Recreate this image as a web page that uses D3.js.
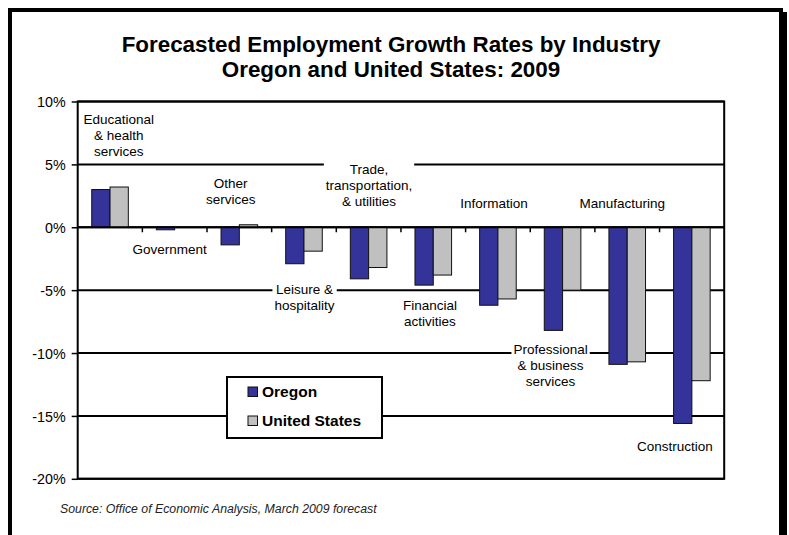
<!DOCTYPE html>
<html>
<head>
<meta charset="utf-8">
<script src="https://cdn.jsdelivr.net/npm/d3@7"></script>
<style>
  html, body { margin: 0; padding: 0; background: #fff; }
  svg { display: block; font-family: "Liberation Sans", Arial, Helvetica, sans-serif; }
</style>
</head>
<body>
<svg id="chart" width="789" height="535"></svg>
<script>
// ---------- data ----------
const categories = [
  "Educational & health services", "Government", "Other services",
  "Leisure & hospitality", "Trade, transportation, & utilities",
  "Financial activities", "Information", "Professional & business services",
  "Manufacturing", "Construction"
];
const seriesNames = ["Oregon", "United States"];
const oregon = [3.0, -0.2, -1.4, -2.9, -4.1, -4.6, -6.2, -8.2, -10.9, -15.6];
const unitedStates = [3.2, 0.0, 0.2, -1.9, -3.2, -3.8, -5.7, -5.0, -10.7, -12.2];
const yTicks = [10, 5, 0, -5, -10, -15, -20];
const titleLines = ["Forecasted Employment Growth Rates by Industry", "Oregon and United States: 2009"];
const sourceText = "Source: Office of Economic Analysis, March 2009 forecast";

// category label text lines
const labelLines = [
  ["Educational", "& health", "services"],
  ["Government"],
  ["Other", "services"],
  ["Leisure &", "hospitality"],
  ["Trade,", "transportation,", "& utilities"],
  ["Financial", "activities"],
  ["Information"],
  ["Professional", "& business", "services"],
  ["Manufacturing"],
  ["Construction"]
];

// ---------- layout ----------
const colors = ["#333399", "#c0c0c0"];
const plot = { left: 77.7, right: 724.2, top: 101.5, bottom: 478.8 };
// label anchor: offset from band centre (px) and first-baseline in data units
const labelAnchor = [
  { dx: 8.7, v: 8.2 }, { dx: -5, v: -2.1 }, { dx: -8.6, v: 3.1 }, { dx: 0.5, v: -5.3 },
  { dx: 0.4, v: 4.2 }, { dx: -3.3, v: -6.6 }, { dx: -4, v: 1.5 }, { dx: -12, v: -10.1 },
  { dx: -5, v: 1.5 }, { dx: -17, v: -17.8 }
];

const svg = d3.select("#chart");

// frame with shadow
svg.append("rect").attr("x", 12).attr("y", 12).attr("width", 775).attr("height", 540).attr("fill", "#000");
svg.append("rect").attr("x", 10).attr("y", 10).attr("width", 771).attr("height", 540)
  .attr("fill", "#fff").attr("stroke", "#000").attr("stroke-width", 4);

// title
svg.append("g").selectAll("text").data(titleLines).join("text")
  .attr("x", 391).attr("y", (d, i) => 52 + i * 25)
  .attr("text-anchor", "middle").attr("font-weight", "bold").attr("font-size", 22.4)
  .attr("fill", "#000").text(d => d);

// scales
const x0 = d3.scaleBand().domain(categories).range([plot.left, plot.right]).padding(0);
const groupW = x0.bandwidth() * 0.566;
const x1 = d3.scaleBand().domain(seriesNames).range([0, groupW]).padding(0);
const y = d3.scaleLinear().domain([-20, 10]).range([plot.bottom, plot.top]);

// gridlines
svg.append("g").selectAll("line").data(yTicks).join("line")
  .attr("x1", plot.left).attr("x2", plot.right)
  .attr("y1", d => y(d)).attr("y2", d => y(d))
  .attr("stroke", "#000").attr("stroke-width", 2);

// y axis
const yAxis = d3.axisLeft(y).tickValues(yTicks).tickSize(6).tickPadding(6)
  .tickFormat(d => d + "%");
const gy = svg.append("g").attr("transform", `translate(${plot.left},0)`).call(yAxis);
gy.select(".domain").remove();
gy.selectAll(".tick line").attr("stroke", "#000").attr("stroke-width", 1.5);
gy.selectAll(".tick text").attr("font-size", 14.3).attr("fill", "#000")
  .attr("font-family", "Liberation Sans, Arial, sans-serif").attr("dy", "0.36em");

// bars
const rows = categories.map((c, i) => ({ cat: c, vals: [oregon[i], unitedStates[i]] }));
const groups = svg.append("g").selectAll("g").data(rows).join("g")
  .attr("transform", d => `translate(${x0(d.cat) + (x0.bandwidth() - groupW) / 2},0)`);
groups.selectAll("rect").data(d => d.vals.map((v, j) => ({ v, s: seriesNames[j], j })))
  .join("rect")
  .attr("x", d => x1(d.s))
  .attr("width", x1.bandwidth())
  .attr("y", d => Math.min(y(0), y(d.v)))
  .attr("height", d => Math.abs(y(d.v) - y(0)))
  .attr("fill", d => colors[d.j])
  .attr("stroke", "#111").attr("stroke-width", 1);

// zero axis line with category boundary ticks
svg.append("line").attr("x1", plot.left).attr("x2", plot.right)
  .attr("y1", y(0)).attr("y2", y(0)).attr("stroke", "#000").attr("stroke-width", 2);
svg.append("g").selectAll("line").data(categories.slice(1)).join("line")
  .attr("x1", d => x0(d)).attr("x2", d => x0(d))
  .attr("y1", y(0)).attr("y2", y(0) + 5)
  .attr("stroke", "#000").attr("stroke-width", 1.5);

// plot border
svg.append("rect").attr("x", plot.left).attr("y", plot.top)
  .attr("width", plot.right - plot.left).attr("height", plot.bottom - plot.top)
  .attr("fill", "none").attr("stroke", "#000").attr("stroke-width", 2);

// category labels with white background
const lh = 16;
categories.forEach((c, i) => {
  const a = labelAnchor[i];
  const cx = x0(c) + x0.bandwidth() / 2 + a.dx;
  const by = y(a.v);
  const g = svg.append("g");
  const bg = g.append("rect").attr("fill", "#fff");
  const t = g.append("text").attr("text-anchor", "middle").attr("font-size", 13.5).attr("fill", "#000");
  labelLines[i].forEach((ln, k) => {
    t.append("tspan").attr("x", cx).attr("y", by + k * lh).text(ln);
  });
  const bb = t.node().getBBox();
  bg.attr("x", bb.x - 2).attr("y", bb.y - 1).attr("width", bb.width + 4).attr("height", bb.height + 2);
});

// legend
const lg = svg.append("g");
lg.append("rect").attr("x", 227).attr("y", 377).attr("width", 155).attr("height", 61)
  .attr("fill", "#fff").attr("stroke", "#000").attr("stroke-width", 2);
seriesNames.forEach((s, j) => {
  lg.append("rect").attr("x", 248).attr("y", 387 + j * 29).attr("width", 9.5).attr("height", 9.5)
    .attr("fill", colors[j]).attr("stroke", "#111").attr("stroke-width", 1);
  lg.append("text").attr("x", 262).attr("y", 397 + j * 29).attr("font-size", 15.5)
    .attr("font-weight", "bold").attr("fill", "#000").text(s);
});

// source
svg.append("text").attr("x", 60).attr("y", 513).attr("font-size", 12.3)
  .attr("font-style", "italic").attr("fill", "#222").text(sourceText);
</script>
</body>
</html>
